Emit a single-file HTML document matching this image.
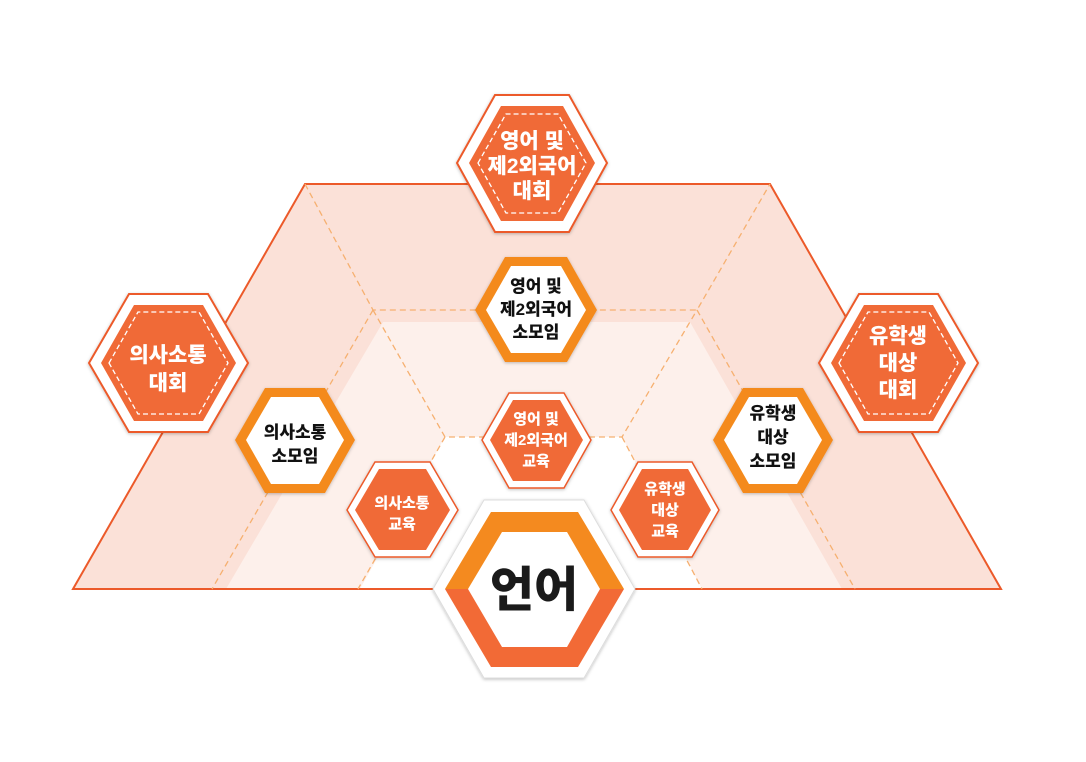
<!DOCTYPE html>
<html><head><meta charset="utf-8"><style>
body{margin:0;background:#fff;}
svg text{font-family:"Liberation Sans","Noto Sans CJK KR",sans-serif;font-weight:900;text-anchor:middle;}
</style></head><body>
<svg width="1086" height="757" viewBox="0 0 1086 757" xmlns="http://www.w3.org/2000/svg">
<defs>
<filter id="sh" x="-10%" y="-10%" width="120%" height="120%"><feDropShadow dx="0" dy="1" stdDeviation="1.5" flood-color="#000" flood-opacity="0.25"/></filter>
</defs>
<polygon points="73,589 305,184 770,184 1001,589" fill="#fbe1d8" stroke="#ec5a2a" stroke-width="2"/>
<polygon points="226,589 383,322 690,322 842,589" fill="#fdf0eb"/>
<polygon points="360,589 445,437 622,437 702,589" fill="#ffffff"/>
<line x1="73" y1="589" x2="1001" y2="589" stroke="#ec5a2a" stroke-width="2"/>
<g stroke="#f6b070" stroke-width="1.3" stroke-dasharray="6,4" fill="none">
<polyline points="305,184 373,310 697,310 770,184"/>
<line x1="373" y1="310" x2="212" y2="589"/>
<line x1="697" y1="310" x2="855" y2="589"/>
<polyline points="373,310 445,437 622,437 697,310"/>
<line x1="445" y1="437" x2="358" y2="589"/>
<line x1="622" y1="437" x2="702" y2="589"/>
</g>

<g filter="url(#sh)">
<polygon points="457,163 495,95 569,95 607,163 569,232 495,232" fill="#fff" stroke="#ec5a2a" stroke-width="2"/>
<polygon points="89,363 129,294 208,294 248,363 208,432 129,432" fill="#fff" stroke="#ec5a2a" stroke-width="2"/>
<polygon points="819,363 859,294 938,294 978,363 938,432 859,432" fill="#fff" stroke="#ec5a2a" stroke-width="2"/>
</g>
<polygon points="469,163 501,106 563,106 595,163 563,221 501,221" fill="#f06a37"/>
<polygon points="478,163 506,114 558,114 586,163 558,213 506,213" fill="none" stroke="#fff" stroke-width="1.3" stroke-dasharray="5,3"/>
<polygon points="101,363 134,305 203,305 236,363 203,421 134,421" fill="#f06a37"/>
<polygon points="109,363 138,312 199,312 228,363 199,414 138,414" fill="none" stroke="#fff" stroke-width="1.3" stroke-dasharray="5,3"/>
<polygon points="831,363 864,305 933,305 966,363 933,421 864,421" fill="#f06a37"/>
<polygon points="839,363 868,312 929,312 958,363 929,414 868,414" fill="none" stroke="#fff" stroke-width="1.3" stroke-dasharray="5,3"/>
<g fill="#fff" font-size="21">
<text x="532" y="148">영어 및</text><text x="532" y="173">제2외국어</text><text x="532" y="198">대회</text>
<text x="168" y="362">의사소통</text><text x="168" y="390">대회</text>
<text x="898" y="343">유학생</text><text x="898" y="370">대상</text><text x="898" y="397">대회</text>
</g>

<g filter="url(#sh)">
<polygon points="475,310 505,257 567,257 597,310 567,362 505,362" fill="#f48a1f"/>
<polygon points="235,440 265,388 325,388 355,440 325,493 265,493" fill="#f48a1f"/>
<polygon points="713,440 743,388 803,388 833,440 803,493 743,493" fill="#f48a1f"/>
</g>
<polygon points="486,310 511,266 561,266 586,310 561,353 511,353" fill="#fff"/>
<polygon points="246,440 271,397 319,397 344,440 319,484 271,484" fill="#fff"/>
<polygon points="724,440 749,397 797,397 822,440 797,484 749,484" fill="#fff"/>
<g fill="#111" font-size="17">
<text x="536" y="292">영어 및</text><text x="536" y="315">제2외국어</text><text x="536" y="338">소모임</text>
<text x="295" y="438">의사소통</text><text x="295" y="462">소모임</text>
<text x="773" y="419">유학생</text><text x="773" y="443">대상</text><text x="773" y="467">소모임</text>
</g>

<g filter="url(#sh)">
<polygon points="482,440 509,393 564,393 591,440 564,488 509,488" fill="#fff" stroke="#ec5a2a" stroke-width="1.5"/>
<polygon points="347,510 375,462 430,462 458,510 430,557 375,557" fill="#fff" stroke="#ec5a2a" stroke-width="1.5"/>
<polygon points="611,510 638,462 692,462 719,510 692,557 638,557" fill="#fff" stroke="#ec5a2a" stroke-width="1.5"/>
</g>
<polygon points="490,440 513,400 560,400 583,440 560,481 513,481" fill="#f06a37"/>
<polygon points="355,510 379,469 426,469 450,510 426,550 379,550" fill="#f06a37"/>
<polygon points="619,510 642,469 688,469 711,510 688,550 642,550" fill="#f06a37"/>
<g fill="#fff" font-size="15">
<text x="536" y="424">영어 및</text><text x="536" y="445">제2외국어</text><text x="536" y="466">교육</text>
<text x="402" y="508">의사소통</text><text x="402" y="529">교육</text>
<text x="665" y="494">유학생</text><text x="665" y="515">대상</text><text x="665" y="536">교육</text>
</g>

<polygon filter="url(#sh)" points="433,589 484,500 584,500 635,589 584,678 484,678" fill="#fff" stroke="#ddd" stroke-width="1"/>
<polygon points="445,589 491,512 578,512 624,589" fill="#f48a1f"/>
<polygon points="445,589 624,589 578,667 491,667" fill="#f26a36"/>
<polygon points="468,589 502,532 567,532 600,589 567,647 502,647" fill="#fff"/>
<text x="534" y="606" font-size="48" fill="#1a1a1a">언어</text>
</svg>
</body></html>
